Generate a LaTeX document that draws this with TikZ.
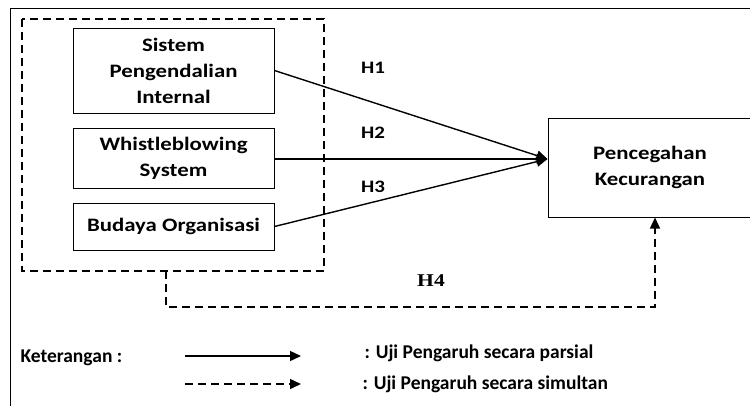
\documentclass[tikz,border=0pt]{standalone}
\usepackage{fontspec}
\setmainfont{Carlito}[FakeStretch=1.2]
\newfontfamily\legfont{Carlito}
\newfontfamily\hfont{Liberation Serif}[FakeStretch=1.2]
\usetikzlibrary{positioning}
\usetikzlibrary{arrows.meta}

\tikzset{
varbox/.style={draw,line width=1pt,minimum width=201pt,align=center,font=\fontsize{19}{26}\selectfont\bfseries},
hlabel/.style={font=\fontsize{17.5}{20}\selectfont\bfseries},
leglabel/.style={anchor=west,font=\fontsize{19.5}{22}\selectfont\legfont\bfseries},
dashline/.style={line width=1.5pt,dash pattern=on 8pt off 5pt},
tip/.style={-{Triangle[length=11pt,width=10pt]}}
}

\begin{document}
\begin{tikzpicture}[x=1pt,y=-1pt]
\useasboundingbox (0,0) rectangle (750,405);
\begin{scope}
\clip (0,0) rectangle (750,405);
\draw[line width=1.5pt] (10.5,408) -- (10.5,8.5) -- (755,8.5);
\node[varbox,minimum width=204pt,minimum height=99pt] (pk) at (650,167.5) {Pencegahan\\Kecurangan};
\end{scope}

\node[varbox,minimum height=85pt] (spi) at (173.5,70.5) {Sistem\\Pengendalian\\Internal};
\node[varbox,minimum height=60pt] (wbs) at (173.5,158) {Whistleblowing\\System};
\node[varbox,minimum height=47pt] (bo) at (173.5,226.5) {Budaya Organisasi};

\draw[dashline] (22,19) rectangle (324,271);
\coordinate (g) at (166,271);
\coordinate (t) at (pk.west |- 0,159);

\draw[line width=1.4pt,tip] (spi.east) -- (t);
\draw[line width=1.4pt,tip] (wbs.east |- t) -- (t);
\draw[line width=1.4pt,tip] (bo.east) -- (t);
\node[hlabel] (h1) at (373,68) {H1};
\node[hlabel] (h2) at (373,133) {H2};
\node[hlabel] (h3) at (373,187) {H3};

\draw[dashline,tip] (g) -- (166,307) -- (655,307) -- (pk.south -| 655,0);
\node[font=\fontsize{18}{20}\selectfont\hfont\bfseries] (h4) at (431,281) {H4};

% keterangan
\node[leglabel] (ket) at (17,358) {Keterangan :};
\coordinate (a1) at (185,356);
\coordinate (b1) at (301,356);
\coordinate (a2) at (185,384);
\coordinate (b2) at (301,384);
\draw[line width=1.4pt,tip] (a1) -- (b1);
\draw[dashline,tip] (a2) -- (b2);
\node[leglabel] (parsial) at (361,353) {: Uji Pengaruh secara parsial};
\node[leglabel] (simultan) at (359,384) {: Uji Pengaruh secara simultan};

\end{tikzpicture}
\end{document}
